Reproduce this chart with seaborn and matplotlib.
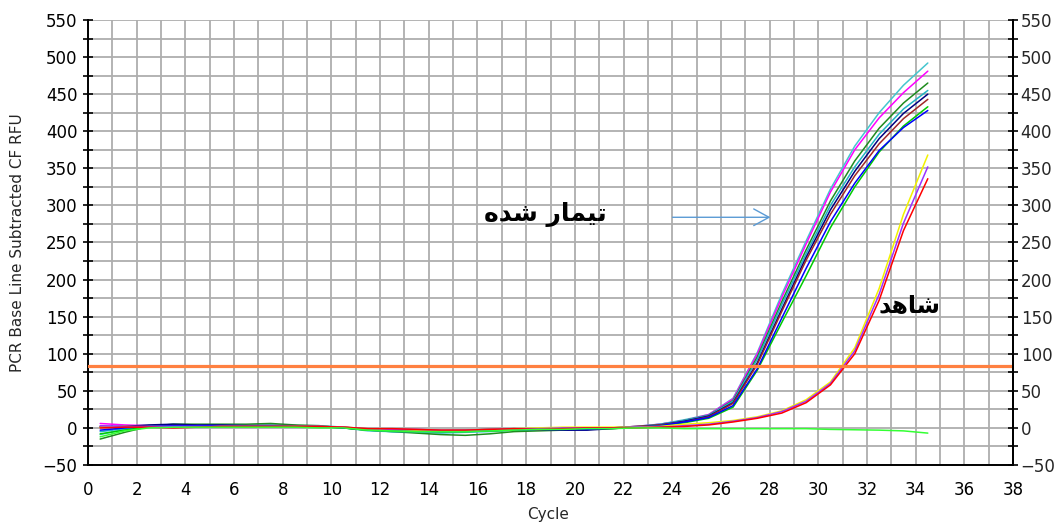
import numpy as np
import pandas as pd
import matplotlib
matplotlib.use('Agg')
import matplotlib.pyplot as plt
import seaborn as sns
from matplotlib.ticker import MultipleLocator

# cycle positions of the readings
cycles = np.arange(0.5, 35.0, 1.0)

# treated wells (تیمار شده)
cyan_a = [-9, -2, 3, 4, 4, 3, 3, 4, 3, 2, 0, -4, -5, -6, -7, -6, -5, -3, -2, -2, -1, 0, 1,
          5, 11, 18, 40, 102, 180, 252, 322, 380, 425, 462, 492]
magenta = [6, 4, 3, 3, 4, 4, 3, 3, 3, 2, 1, -2, -3, -4, -5, -4, -3, -2, -1, -1, 0, 0, 2,
           5, 10, 18, 39, 100, 176, 248, 318, 375, 418, 452, 481]
dark_green = [-15, -6, 2, 5, 5, 5, 5, 6, 4, 3, 0, -3, -5, -7, -9, -10, -8, -5, -4, -3, -2, -1, 1,
              4, 10, 17, 37, 96, 170, 240, 306, 360, 404, 438, 465]
cyan_b = [-5, -1, 3, 3, 4, 4, 3, 3, 3, 3, 1, -3, -5, -5, -6, -5, -4, -3, -2, -1, -1, 0, 2,
          5, 10, 17, 36, 93, 166, 235, 300, 352, 396, 430, 455]
navy = [2, 2, 4, 5, 4, 4, 3, 3, 3, 2, 0, -2, -3, -4, -4, -3, -2, -2, -2, -3, -3, -1, 1,
        4, 9, 16, 34, 88, 160, 230, 294, 346, 390, 424, 450]
brown = [1, 2, 2, 3, 3, 3, 3, 3, 3, 2, 1, -2, -3, -3, -4, -4, -3, -2, -2, -1, -1, 0, 2,
         4, 8, 15, 33, 86, 157, 226, 288, 340, 383, 417, 443]
lime = [-8, -3, 2, 3, 3, 3, 3, 3, 2, 2, 0, -3, -4, -4, -5, -5, -4, -3, -2, -1, 0, 0, 1,
        3, 7, 13, 28, 78, 142, 205, 270, 325, 372, 407, 433]
blue = [-3, 0, 2, 3, 3, 3, 3, 3, 2, 2, 0, -2, -3, -3, -4, -4, -3, -3, -2, -2, -2, 0, 1,
        3, 8, 14, 30, 80, 148, 215, 278, 330, 374, 405, 428]

# control wells (شاهد)
yellow = [1, 2, 1, 1, 1, 2, 2, 2, 2, 2, 1, -1, -2, -3, -3, -3, -2, -1, 0, 1, 1, 1, 1,
          2, 5, 7, 10, 15, 23, 38, 62, 108, 188, 288, 368]
purple = [3, 2, 2, 2, 2, 2, 2, 2, 2, 2, 1, -1, -2, -2, -3, -3, -2, -1, -1, 0, 0, 0, 1,
          1, 3, 5, 9, 14, 22, 36, 60, 104, 180, 276, 352]
red = [0, 1, 1, 0, 1, 2, 2, 2, 2, 2, 1, -1, -1, -2, -3, -3, -2, -1, -2, -1, 0, 0, 0,
       1, 2, 4, 8, 13, 20, 34, 58, 100, 172, 266, 336]

# no-template well
ntc = [-12, -4, 0, 1, 1, 1, 1, 1, 1, 0, 0, -3, -4, -5, -5, -5, -4, -3, -2, -2, -1, -1, 0,
       0, -1, -1, -1, -1, -1, -1, -2, -2.5, -3, -4, -7]

threshold = 83

wells = [('cyan_a', cyan_a, '#45C6CF'), ('magenta', magenta, '#FF00FF'),
         ('dark_green', dark_green, '#1E8C1E'), ('cyan_b', cyan_b, '#22B4C4'),
         ('navy', navy, '#000080'), ('brown', brown, '#A02828'),
         ('lime', lime, '#00CC00'), ('blue', blue, '#0000FF'),
         ('yellow', yellow, '#F2F200'), ('purple', purple, '#9933FF'),
         ('red', red, '#FF0000'), ('ntc', ntc, '#33FF33')]

df = pd.concat([pd.DataFrame({'cycle': cycles, 'rfu': vals, 'well': name})
                for name, vals, _ in wells], ignore_index=True)
palette = {name: col for name, _, col in wells}

sns.set_style('white')
plt.rcParams['font.family'] = ['DejaVu Sans']

fig = plt.figure(figsize=(10.56, 5.29), dpi=100)
ax = fig.add_axes([88 / 1056, 1 - 465 / 529, (1013 - 88) / 1056, (465 - 20) / 529])

sns.lineplot(data=df, x='cycle', y='rfu', hue='well', palette=palette,
             estimator=None, sort=False, legend=False, linewidth=1.1, ax=ax)

ax.axhline(threshold, color='#FF8040', lw=2.3, zorder=4)

ax.set_xlim(0, 38)
ax.set_ylim(-50, 550)
ax.xaxis.set_major_locator(MultipleLocator(2))
ax.xaxis.set_minor_locator(MultipleLocator(1))
ax.yaxis.set_major_locator(MultipleLocator(50))
ax.yaxis.set_minor_locator(MultipleLocator(25))
ax.grid(which='both', color='#AEAEAE', lw=1.3, zorder=0)
ax.set_axisbelow(True)
ax.tick_params(which='both', direction='inout', length=7, width=1.2, color='black')
ax.tick_params(axis='both', labelsize=12, colors='black')
ax.tick_params(axis='y', pad=4)
ax.tick_params(axis='x', pad=8)
ax.set_xlabel(None)
ax.set_ylabel(None)

for side in ['left', 'right', 'bottom']:
    ax.spines[side].set_color('black')
    ax.spines[side].set_linewidth(1.4)
ax.spines['top'].set_visible(False)

# duplicate scale on the right
ax2 = ax.twinx()
ax2.set_ylim(-50, 550)
ax2.yaxis.set_major_locator(MultipleLocator(50))
ax2.yaxis.set_minor_locator(MultipleLocator(25))
ax2.tick_params(which='both', direction='inout', length=7, width=1.2, color='black')
ax2.tick_params(axis='y', labelsize=12, pad=2)
ax2.grid(False)
for side in ['left', 'top', 'bottom']:
    ax2.spines[side].set_visible(False)
ax2.spines['right'].set_color('black')
ax2.spines['right'].set_linewidth(1.4)

fig.text(548 / 1056, 1 - 515 / 529, 'Cycle', ha='center', va='center', fontsize=11)
fig.text(18 / 1056, 1 - 243 / 529, 'PCR Base Line Subtracted CF RFU',
         ha='center', va='center', rotation=90, fontsize=11)

# Persian annotations, written in shaped presentation forms (visual order)
treated_label = '\uFEE9\uFEAA\uFEB7 \uFEAD\uFE8E\uFEE4\uFEF4\uFE97'
control_label = '\uFEAA\uFEEB\uFE8E\uFEB7'
ax.text(18.8, 288, treated_label, ha='center', va='center', fontsize=18,
        fontweight='bold', color='black', zorder=6)
ax.text(33.75, 166, control_label, ha='center', va='center', fontsize=17,
        fontweight='bold', color='black', zorder=6)
ax.annotate('', xy=(28.15, 284), xytext=(23.9, 284),
            arrowprops=dict(arrowstyle='->,head_length=0.55,head_width=0.3',
                            color='#5B9BD5', lw=1, mutation_scale=20), zorder=6)

fig.savefig('out.png', dpi=100)
